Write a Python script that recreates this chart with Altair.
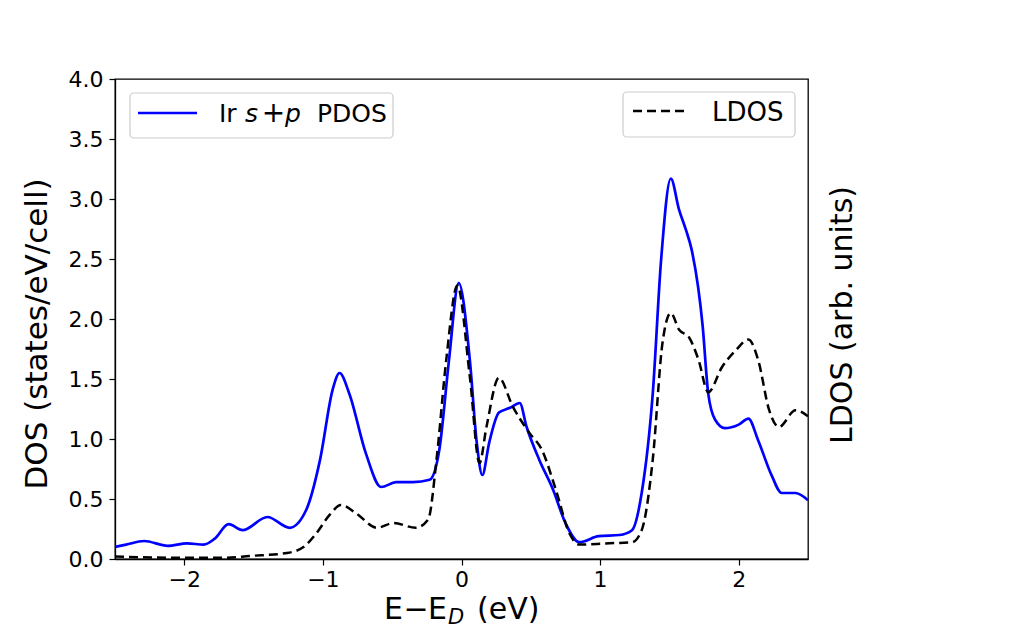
import altair as alt
import pandas as pd

# Ir s+p PDOS (blue, solid)
pdos_e = [-2.5, -2.42, -2.29, -2.12, -1.98, -1.86, -1.78, -1.68, -1.58, -1.40, -1.24, -1.12, -1.02,
          -0.93, -0.88, -0.81, -0.69, -0.58, -0.47, -0.35, -0.23, -0.16, -0.09, -0.02,
          0.06, 0.11, 0.15, 0.20, 0.27, 0.35, 0.42, 0.47, 0.56, 0.66, 0.75, 0.85, 0.99,
          1.14, 1.23, 1.30, 1.38, 1.44, 1.51, 1.57, 1.62, 1.66, 1.74, 1.78, 1.83, 1.90,
          2.00, 2.07, 2.14, 2.24, 2.31, 2.41, 2.5]
pdos_v = [0.10, 0.12, 0.15, 0.11, 0.13, 0.12, 0.17, 0.29, 0.24, 0.35, 0.26, 0.41, 0.83,
          1.41, 1.55, 1.38, 0.88, 0.60, 0.64, 0.64, 0.66, 0.91, 1.66, 2.30,
          1.66, 0.97, 0.70, 0.97, 1.22, 1.26, 1.30, 1.10, 0.83, 0.58, 0.30, 0.14, 0.19,
          0.20, 0.24, 0.55, 1.38, 2.49, 3.17, 2.91, 2.74, 2.58, 1.94, 1.38, 1.16, 1.09,
          1.12, 1.17, 0.99, 0.69, 0.55, 0.55, 0.49]

# LDOS (black, dashed)
ldos_e = [-2.5, -2.0, -1.7, -1.53, -1.26, -1.14, -1.05, -0.95, -0.87, -0.76, -0.61, -0.49,
          -0.33, -0.24, -0.18, -0.11, -0.03, 0.06, 0.13, 0.18, 0.27, 0.37, 0.49, 0.58,
          0.68, 0.78, 0.85, 1.04, 1.23, 1.30, 1.38, 1.45, 1.51, 1.57, 1.64, 1.71, 1.78,
          1.88, 1.98, 2.07, 2.14, 2.22, 2.29, 2.41, 2.5]
ldos_v = [0.02, 0.01, 0.01, 0.025, 0.05, 0.10, 0.21, 0.37, 0.45, 0.38, 0.26, 0.30,
          0.26, 0.33, 0.83, 1.66, 2.28, 1.52, 0.80, 1.10, 1.51, 1.27, 1.05, 0.91,
          0.58, 0.21, 0.12, 0.13, 0.14, 0.24, 0.83, 1.80, 2.05, 1.91, 1.85, 1.66, 1.39,
          1.60, 1.74, 1.83, 1.66, 1.24, 1.10, 1.24, 1.19]

x_ticks = [-2, -1, 0, 1, 2]
y_ticks = [0.0, 0.5, 1.0, 1.5, 2.0, 2.5, 3.0, 3.5, 4.0]

FONT = "DejaVu Sans"
W, H = 693, 480

pdos_df = pd.DataFrame({"E": pdos_e, "DOS": pdos_v})
ldos_df = pd.DataFrame({"E": ldos_e, "DOS": ldos_v})

xs = alt.Scale(domain=[-2.5, 2.5], nice=False, zero=False)
ys = alt.Scale(domain=[0, 4.0], nice=False)

xaxis = alt.Axis(values=x_ticks, format="d", title=None, grid=False, labelFontSize=22,
                 labelFont=FONT, labelColor="black", tickColor="black", tickSize=6,
                 tickWidth=1.2, domainColor="black", domainWidth=1.3, labelPadding=4)
yaxis = alt.Axis(values=y_ticks, format=".1f", title=None, grid=False, labelFontSize=22,
                 labelFont=FONT, labelColor="black", tickColor="black", tickSize=6,
                 tickWidth=1.2, domainColor="black", domainWidth=1.3, labelPadding=6)

pdos_line = alt.Chart(pdos_df).mark_line(color="#0000ff", strokeWidth=2.7,
                                         interpolate="monotone", clip=True).encode(
    x=alt.X("E:Q", scale=xs, axis=xaxis),
    y=alt.Y("DOS:Q", scale=ys, axis=yaxis),
)
ldos_line = alt.Chart(ldos_df).mark_line(color="black", strokeWidth=2.5, strokeDash=[9, 5],
                                         interpolate="monotone", clip=True).encode(
    x=alt.X("E:Q", scale=xs),
    y=alt.Y("DOS:Q", scale=ys),
)

one = pd.DataFrame({"a": [0]})
base = alt.Chart(one)

# legend boxes
box1 = base.mark_rect(fill="white", fillOpacity=0.8, stroke="#cccccc", strokeWidth=1.2,
                      cornerRadius=4).encode(
    x=alt.value(15), x2=alt.value(278), y=alt.value(14), y2=alt.value(59))
box2 = base.mark_rect(fill="white", fillOpacity=0.8, stroke="#cccccc", strokeWidth=1.2,
                      cornerRadius=4).encode(
    x=alt.value(508), x2=alt.value(680), y=alt.value(13), y2=alt.value(58))
leg1 = base.mark_rule(color="#0000ff", strokeWidth=2.7).encode(
    x=alt.value(23), x2=alt.value(82), y=alt.value(34))
leg2 = base.mark_rule(color="black", strokeWidth=2.5, strokeDash=[9, 5]).encode(
    x=alt.value(518), x2=alt.value(573), y=alt.value(32))


def txt(s, x, y, size=25, style="normal", align="left", angle=0, baseline="alphabetic"):
    return base.mark_text(text=s, font=FONT, fontSize=size, fontStyle=style, align=align,
                          baseline=baseline, angle=angle, color="black").encode(
        x=alt.value(x), y=alt.value(y))


texts = [
    txt("Ir", 104, 43),
    txt("s", 130, 43, style="italic"),
    txt("+", 158.5, 43, size=28, align="center"),
    txt("p", 170, 43, style="italic"),
    txt("PDOS", 202, 43),
    txt("LDOS", 597, 42, size=26),
    # x title
    txt("E", 269, 540, size=30),
    txt("\u2212", 301, 540, size=30, align="center"),
    txt("E", 313, 540, size=30),
    txt("D", 333, 545, size=21, style="italic"),
    txt("(eV)", 362, 540, size=30),
    # y titles
    txt("DOS (states/eV/cell)", -77, 255, size=31, angle=270, align="center", baseline="middle"),
    txt("LDOS (arb. units)", 728, 236, size=30, angle=270, align="center", baseline="middle"),
]

chart = alt.layer(pdos_line, ldos_line, box1, box2, leg1, leg2, *texts).properties(
    width=W, height=H,
    autosize=alt.AutoSizeParams(type="none"),
    padding={"left": 115, "top": 79, "right": 223, "bottom": 84},
    background="white",
).configure_view(stroke="black", strokeWidth=1.3)

chart.save("out.html", embed_options={"renderer": "svg", "actions": False})
